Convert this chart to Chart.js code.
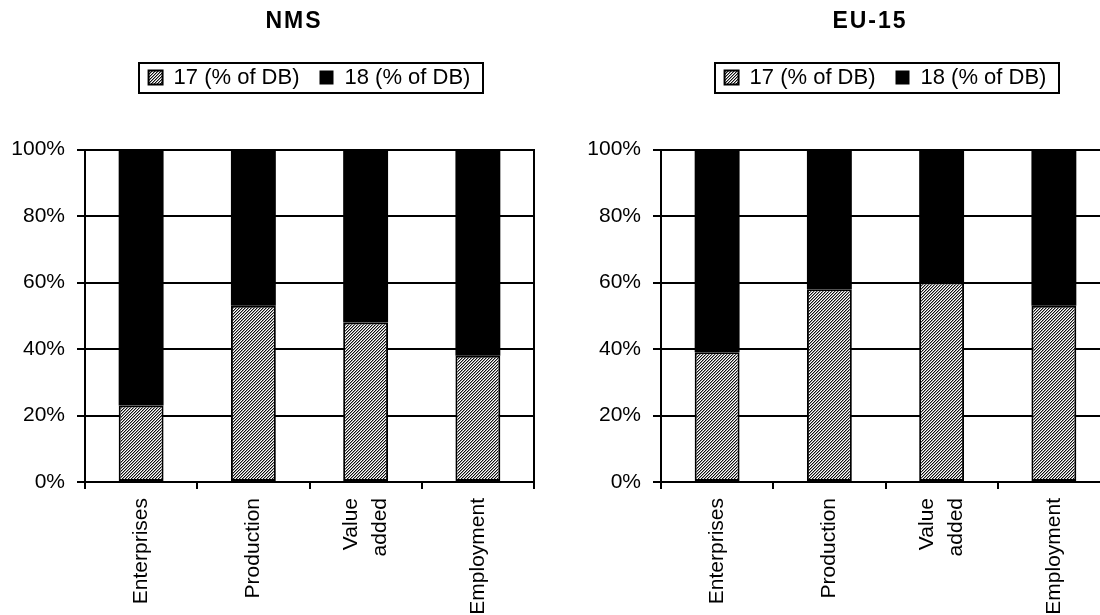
<!DOCTYPE html>
<html>
<head>
<meta charset="utf-8">
<script src="https://cdn.jsdelivr.net/npm/chart.js@4.4.1/dist/chart.umd.min.js"></script>
<style>
  html, body { margin: 0; padding: 0; background: #fff; width: 1100px; height: 615px; overflow: hidden; }
  canvas { position: absolute; top: 0; }
  #nms { left: 0; }
  #eu { left: 576px; }
</style>
</head>
<body>
<canvas id="nms" width="588" height="615"></canvas>
<canvas id="eu" width="588" height="615"></canvas>
<script>
// values (share in %)
const categories = ['Enterprises', 'Production', ['Value', 'added'], 'Employment'];
const seriesNames = ['17 (% of DB)', '18 (% of DB)'];
const nms17 = [23, 53, 48, 38];
const nms18 = [77, 47, 52, 62];
const eu17 = [39, 58, 60, 53];
const eu18 = [61, 42, 40, 47];
const yTicks = [0, 20, 40, 60, 80, 100];

Chart.defaults.font.family = '"Liberation Sans", Arial, sans-serif';
Chart.defaults.color = '#000';

// fine diagonal hatch like the old excel fill
function hatch(ctx) {
    const tile = document.createElement('canvas');
    tile.width = 3; tile.height = 3;
    const g = tile.getContext('2d');
    g.fillStyle = '#fff';
    g.fillRect(0, 0, 3, 3);
    for (let x = 0; x < 3; x++) {
        for (let y = 0; y < 3; y++) {
            const k = (x + y) % 3;
            if (k === 0) { g.fillStyle = '#111'; g.fillRect(x, y, 1, 1); }
            if (k === 1) { g.fillStyle = '#999'; g.fillRect(x, y, 1, 1); }
        }
    }
    return ctx.createPattern(tile, 'repeat');
}

const frame = {
    id: 'frame',
    beforeInit(chart) {
        // leave room between legend and plot
        const fit = chart.legend.fit;
        chart.legend.fit = function () { fit.call(this); this.height += 51; };
        // spaced-out bold title
        const draw = chart.titleBlock.draw;
        chart.titleBlock.draw = function () {
            this.ctx.save();
            this.ctx.letterSpacing = '2px';
            draw.call(this);
            this.ctx.restore();
        };
    },
    afterDraw(chart) {
        // box round the legend
        const ctx = chart.ctx;
        const hb = chart.legend.legendHitBoxes;
        const l = Math.min(...hb.map(h => h.left)) - 10;
        const r = Math.max(...hb.map(h => h.left + h.width)) + 12;
        const t = Math.min(...hb.map(h => h.top)) - 4;
        const b = Math.max(...hb.map(h => h.top + h.height)) + 4;
        ctx.save();
        ctx.strokeStyle = '#000';
        ctx.lineWidth = 2;
        ctx.strokeRect(Math.round(l), Math.round(t), Math.round(r - l), Math.round(b - t));
        ctx.restore();
    }
};

// two-line category labels sit centred on their tick
function centreMultiline(scale) {
    if (scale._centred) return;
    scale._centred = true;
    const compute = scale._computeLabelItems;
    scale._computeLabelItems = function (area) {
        const items = compute.call(this, area);
        items.forEach(it => {
            if (Array.isArray(it.label)) it.textOffset -= (it.label.length - 1) * it.font.lineHeight / 2;
        });
        return items;
    };
}

function makeChart(id, title, s17, s18) {
    const canvas = document.getElementById(id);
    return new Chart(canvas, {
        type: 'bar',
        data: {
            labels: categories,
            datasets: [{
                label: seriesNames[0],
                data: s17,
                backgroundColor: hatch(canvas.getContext('2d')),
                borderColor: '#000',
                borderWidth: 2,
                borderSkipped: false,
                barPercentage: 0.4,
                categoryPercentage: 1
            }, {
                label: seriesNames[1],
                data: s18,
                backgroundColor: '#000',
                borderColor: '#000',
                borderWidth: 0,
                barPercentage: 0.4,
                categoryPercentage: 1
            }]
        },
        options: {
            responsive: false,
            animation: false,
            devicePixelRatio: 1,
            layout: { padding: 0 },
            plugins: {
                title: {
                    display: true,
                    text: title,
                    color: '#000',
                    font: { size: 23, weight: 'bold' },
                    padding: { top: 8, bottom: 11 }
                },
                legend: {
                    fullSize: false,
                    labels: { color: '#000', font: { size: 22 }, boxWidth: 14, boxHeight: 14, padding: 20 }
                },
                tooltip: { enabled: false }
            },
            scales: {
                x: {
                    stacked: true,
                    grid: { offset: true, drawOnChartArea: false, drawTicks: true, tickLength: 7, color: '#000', lineWidth: 2 },
                    border: { color: '#000', width: 2 },
                    ticks: { color: '#000', font: { size: 21, lineHeight: 1.4 }, minRotation: 90, maxRotation: 90, autoSkip: false, padding: 9 },
                    afterFit: s => { s.height = 133; },
                    afterUpdate: centreMultiline
                },
                y: {
                    stacked: true,
                    min: 0,
                    max: 100,
                    grid: { color: '#000', lineWidth: 2, tickLength: 8 },
                    border: { color: '#000', width: 2 },
                    ticks: { color: '#000', font: { size: 21 }, padding: 12, callback: v => v + '%' },
                    afterBuildTicks: s => { s.ticks = yTicks.map(v => ({ value: v })); },
                    afterFit: s => { s.width = 85; }
                },
                // empty right axis: closes the frame and keeps the margin
                y2: {
                    position: 'right',
                    min: 0,
                    max: 100,
                    grid: { display: false },
                    ticks: { display: false },
                    border: { display: true, color: '#000', width: 2 },
                    afterFit: s => { s.width = 54; }
                }
            }
        },
        plugins: [frame]
    });
}

makeChart('nms', 'NMS', nms17, nms18);
makeChart('eu', 'EU-15', eu17, eu18);
</script>
</body>
</html>
